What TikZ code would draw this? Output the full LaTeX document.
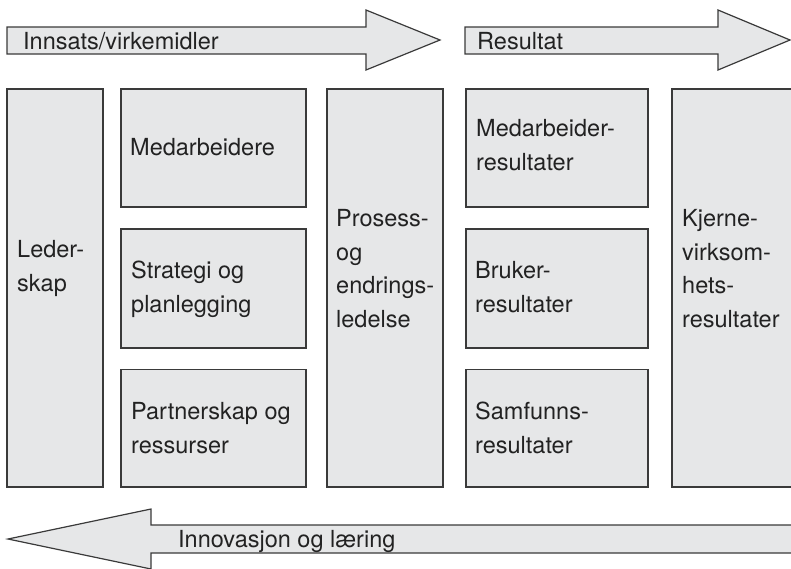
\documentclass[tikz,border=0pt]{standalone}
\usepackage{fontspec}
\setmainfont{TeX Gyre Heros}
\definecolor{boxfill}{HTML}{E6E7E8}
\definecolor{boxline}{HTML}{3A3A3A}
\definecolor{txt}{HTML}{222222}
\begin{document}
\begin{tikzpicture}[x=1pt,y=-1pt,
  box/.style={draw=boxline, fill=boxfill, line width=1.2pt, inner sep=0pt, outer sep=0pt, anchor=north west},
  arrowshape/.style={draw=boxline, fill=boxfill, line width=1.2pt, line join=miter},
  lbl/.style={anchor=base west, inner sep=0pt, align=left, font=\fontsize{23.5}{33.5}\selectfont, text=txt}]
\useasboundingbox (0,0) rectangle (791,568);
\clip (0,0) rectangle (791,568);
% arrows
\draw[arrowshape] (7,27) -- (366,27) -- (366,10) -- (440,40) -- (366,70) -- (366,54) -- (7,54) -- cycle;
\draw[arrowshape] (465,27) -- (718,27) -- (718,10) -- (790,40) -- (718,70) -- (718,54) -- (465,54) -- cycle;
\draw[arrowshape] (800,525) -- (151,525) -- (151,509) -- (8,539) -- (151,569) -- (151,553) -- (800,553) -- cycle;
\node[lbl] (innsats) at (23,49) {Innsats/virkemidler};
\node[lbl] (resultat) at (477,49) {Resultat};
\node[lbl] (innov) at (178,547) {Innovasjon og læring};
% boxes
\node[box, minimum width=96, minimum height=398] (leder) at (7,89) {};
\node[box, minimum width=185, minimum height=118] (medarb) at (121,89) {};
\node[box, minimum width=185, minimum height=119] (strat) at (121,229) {};
\node[box, minimum width=185, minimum height=117.5] (partner) at (121,369.5) {};
\node[box, minimum width=116, minimum height=398] (prosess) at (327,89) {};
\node[box, minimum width=182, minimum height=118] (medres) at (466,89) {};
\node[box, minimum width=182, minimum height=119] (bruker) at (466,229) {};
\node[box, minimum width=182, minimum height=117.5] (samf) at (466,369.5) {};
\node[box, minimum width=130, minimum height=398] (kjerne) at (672,89) {};
% labels (anchor = baseline of last line)
\node[lbl] (tleder) at (17,291) {Leder-\\skap};
\node[lbl] (tmedarb) at (130,155) {Medarbeidere};
\node[lbl] (tstrat) at (131,312) {Strategi og\\planlegging};
\node[lbl] (tpartner) at (131,453) {Partnerskap og\\ressurser};
\node[lbl] (tprosess) at (336,327) {Prosess-\\og\\endrings-\\ledelse};
\node[lbl] (tmedres) at (476,170) {Medarbeider-\\resultater};
\node[lbl] (tbruker) at (475,312) {Bruker-\\resultater};
\node[lbl] (tsamf) at (475,453) {Samfunns-\\resultater};
\node[lbl] (tkjerne) at (682,327) {Kjerne-\\virksom-\\hets-\\resultater};
\end{tikzpicture}
\end{document}
